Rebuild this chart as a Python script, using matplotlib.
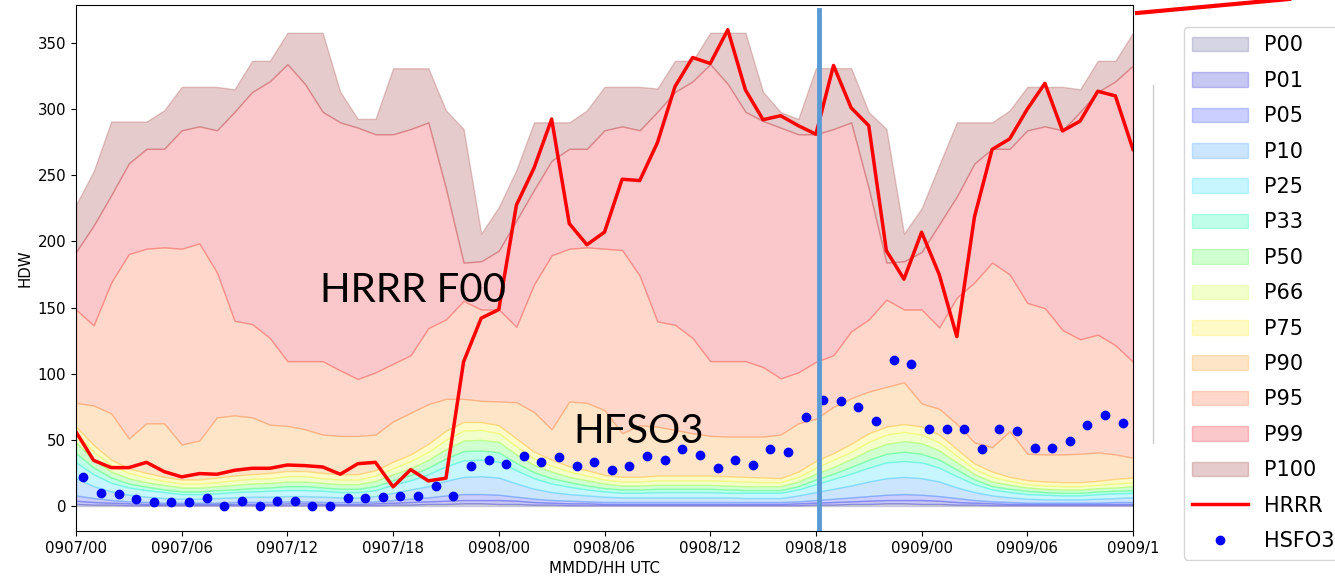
import numpy as np
import matplotlib.pyplot as plt
from matplotlib.lines import Line2D

# hourly forecast times (hours from 0907/00) and observation times (HH:25)
hours = np.arange(61)
obs_hours = np.arange(60) + 25 / 60.0

# climatological percentiles of HDW
p100 = [227.6, 253, 290.6, 290.6, 290.6, 299, 316.8, 316.8, 316.8, 315, 336.5, 336.5, 357.7, 357.7, 357.7, 313, 292.6, 292.6, 330.9, 330.9, 330.9, 299, 285, 205.9,
        226, 254, 290, 290, 290, 299, 316.8, 316.8, 316.8, 315.6, 336.5, 336.5, 357.7, 357.7, 357.7, 313, 297.7, 292.6, 331, 331, 331, 297.7, 285, 205.9,
        225, 257.7, 290, 290, 290, 299, 316.8, 316.8, 316.8, 315, 336.5, 336.5, 357.7]
p99 = [192, 212, 235, 259, 270, 270, 284, 287, 284, 298, 313, 321, 334, 319, 298, 290, 286, 281, 281, 285, 290, 240, 184, 185,
       193, 216, 239, 261, 270, 270, 284, 287, 284, 298, 313, 321, 334, 319, 298, 291, 286, 281, 281, 285, 290, 240, 184, 185,
       192, 213, 234, 259, 270, 270, 284, 287, 284, 298, 313, 321, 333]
p95 = [148.5, 136.5, 169, 190.5, 194.5, 195.5, 194.5, 198.5, 176.5, 140, 137.5, 127, 109.5, 109.5, 109.5, 102.5, 96, 101, 107.5, 114, 134.5, 141, 155, 148.5,
       148.5, 135.5, 167.5, 189.5, 194.5, 195.5, 194.5, 193.5, 174, 139.5, 137, 127, 109.5, 109.5, 109.5, 105, 96.5, 101, 109, 114, 132, 141, 156, 148.5,
       148.5, 135, 157.5, 169, 184, 175, 153.5, 149.5, 133, 126, 129.5, 121.5, 109]
p90 = [78, 76, 70, 51, 62.5, 62.5, 46.5, 49.5, 67, 68.5, 67, 61.5, 60.5, 58, 54, 53, 53, 54, 64, 70.5, 77, 81, 81, 79.5,
       79, 78.5, 71, 58, 79, 78, 72.5, 55, 61, 60, 57.5, 55, 53, 52.5, 52.5, 52.5, 54, 62.5, 66, 75, 81.5, 86.5, 90, 93.5,
       77.5, 73.5, 62, 48, 44.5, 56.5, 39.5, 39, 39, 39.5, 40.5, 39, 36.5]
p75 = [60, 46, 35, 28.5, 25, 22, 20, 20, 21.5, 23, 24, 25, 26.5, 26.5, 25, 24, 24, 27, 33.5, 39, 47, 57, 63.5, 63.5,
       61, 51, 41, 35, 30, 27, 23.5, 22, 22, 23, 23, 23, 23, 22.5, 22, 21.5, 21, 26, 34, 40, 47, 55, 60, 62,
       60, 54, 43, 32, 26, 22, 19.5, 18.5, 18, 18, 19, 20.5, 21.5]
p66 = [55, 41, 31, 25, 21.5, 19, 17, 17, 18, 19.5, 20.5, 21, 22.5, 22.5, 21, 20, 20, 23, 28.5, 34, 41, 50, 57, 57.5,
       55, 45, 36, 30.5, 26, 23, 20, 18.5, 18.5, 19.5, 19.5, 19.5, 19.5, 19, 18.5, 18, 18, 22, 29, 35, 41, 48.5, 54, 56,
       54, 48, 38, 28, 22, 19, 16.5, 15.5, 15, 15, 16, 17, 18]
p50 = [48, 35, 26, 21, 18, 16, 14, 14, 15, 16, 17, 17.5, 18.5, 18.5, 17.5, 16.5, 16.5, 19, 24, 28.5, 35, 43, 49.5, 50,
       48.5, 39, 31, 26, 22, 19.5, 17, 15.5, 15.5, 16, 16, 16, 16, 15.5, 15, 15, 15, 18.5, 24.5, 29.5, 35.5, 42, 47, 49,
       47.5, 42, 33, 24, 18.5, 16, 14, 13, 12.5, 12.5, 13.5, 14, 15]
p33 = [40, 29, 21.5, 17, 14.5, 12.5, 11, 11, 12, 12.5, 13.5, 14, 15, 15, 14, 13, 13, 15, 19.5, 23.5, 29, 36, 41.5, 42,
       40.5, 32.5, 25.5, 21, 18, 15.5, 13.5, 12.5, 12.5, 13, 13, 13, 13, 12.5, 12, 12, 12, 15, 20, 24.5, 29.5, 35, 39.5, 41,
       39.5, 35, 27.5, 20, 15, 13, 11.5, 10.5, 10, 10, 11, 11.5, 12]
p25 = [33, 24, 17.5, 14, 12, 10.5, 9, 9, 9.5, 10.5, 11, 11.5, 12, 12, 11.5, 10.5, 10.5, 12, 16, 19.5, 24, 30, 34.5, 35,
       33.5, 27, 21, 17, 14.5, 12.5, 11, 10, 10, 10.5, 10.5, 10.5, 10.5, 10, 10, 10, 10, 12.5, 16.5, 20.5, 24.5, 29, 33, 34,
       33, 29, 22.5, 16.5, 12.5, 10.5, 9, 8.5, 8, 8, 9, 9.5, 10]
p10 = [21, 15, 11, 8.5, 7, 6, 5.5, 5.5, 6, 6.5, 7, 7, 7.5, 7.5, 7, 6.5, 6.5, 7.5, 10, 12.5, 15, 19, 22, 22.5,
       21.5, 17, 13, 10.5, 9, 8, 7, 6.5, 6.5, 6.5, 6.5, 6.5, 6.5, 6.5, 6, 6, 6, 8, 10.5, 13, 15.5, 18.5, 21, 22,
       21, 18.5, 14, 10.5, 8, 6.5, 5.5, 5, 5, 5, 5.5, 6, 6.5]
p05 = [8, 6, 4.5, 3.5, 3, 2.5, 2.5, 2.5, 2.5, 3, 3, 3, 3.5, 3.5, 3, 3, 3, 3.5, 4.5, 5.5, 6.5, 8, 9, 9,
       8.5, 7, 5.5, 4.5, 4, 3.5, 3, 3, 3, 3, 3, 3, 3, 3, 3, 3, 3, 3.5, 4.5, 5.5, 6.5, 7.5, 8.5, 9,
       8.5, 7.5, 6, 4.5, 3.5, 3, 2.5, 2.5, 2.5, 2.5, 2.5, 3, 3]
p01 = [4, 3, 2.5, 2, 1.5, 1.5, 1.5, 1.5, 1.5, 1.5, 1.5, 1.5, 2, 2, 1.5, 1.5, 1.5, 2, 2.5, 3, 3.5, 4, 4.5, 4.5,
       4.5, 4, 3, 2.5, 2, 2, 1.5, 1.5, 1.5, 1.5, 1.5, 1.5, 1.5, 1.5, 1.5, 1.5, 1.5, 2, 2.5, 3, 3.5, 4, 4.5, 4.5,
       4.5, 4, 3, 2.5, 2, 1.5, 1.5, 1.5, 1.5, 1.5, 1.5, 1.5, 1.5]
p00 = [1.5, 1, 1, 0.5, 0.5, 0.5, 0.5, 0.5, 0.5, 0.5, 0.5, 0.5, 0.5, 0.5, 0.5, 0.5, 0.5, 0.5, 1, 1, 1.5, 1.5, 2, 2,
       1.5, 1.5, 1, 1, 0.5, 0.5, 0.5, 0.5, 0.5, 0.5, 0.5, 0.5, 0.5, 0.5, 0.5, 0.5, 0.5, 0.5, 1, 1, 1.5, 1.5, 2, 2,
       1.5, 1.5, 1, 1, 0.5, 0.5, 0.5, 0.5, 0.5, 0.5, 0.5, 0.5, 0.5]

# HRRR F00 and observed HSFO3
hrrr = [56, 34.5, 29, 29, 33, 26, 22, 24.5, 24, 27, 28.5, 28.5, 31, 30.5, 29.5, 24, 32, 33, 14.5, 27.5, 19, 21, 109, 142,
        148.5, 227.5, 255.5, 292.5, 213.5, 197.5, 207, 247, 246, 274.5, 317, 339, 334.5, 360, 314.5, 292, 295, 287.5, 281, 333, 301, 287.5, 193, 171.5,
        207, 175, 128, 218.5, 269.5, 277.5, 300, 319.5, 283.5, 291, 313.5, 310, 269.5]
hsfo3 = [22, 9.5, 9, 5, 3, 3, 3, 6, 0, 4, 0, 4, 4, 0, 0, 6, 6, 6.5, 7.5, 7.5, 15, 7.5, 30, 35,
         31.5, 38, 33.5, 37, 30, 33.5, 27, 30, 37.5, 35, 43, 38.5, 29, 34.5, 31, 43, 40.5, 67, 80, 79, 74.5, 64, 110.5, 107,
         58.5, 58.5, 58.5, 43, 58.5, 57, 44, 44, 49.5, 61, 68.5, 62.5]

pct_labels = ['P00', 'P01', 'P05', 'P10', 'P25', 'P33', 'P50', 'P66', 'P75', 'P90', 'P95', 'P99', 'P100']
pct_values = [p00, p01, p05, p10, p25, p33, p50, p66, p75, p90, p95, p99, p100]
pct_colors = ['#5a5a9a', '#2020d0', '#3040ff', '#3399ff', '#22ddff', '#00ffaa', '#44ff44',
              '#ccff33', '#ffee22', '#ff9922', '#ff6633', '#ee2233', '#993333']

tick_pos = np.arange(0, 61, 6)
tick_labels = ['0907/00', '0907/06', '0907/12', '0907/18', '0908/00', '0908/06',
               '0908/12', '0908/18', '0909/00', '0909/06', '0909/1']

fig = plt.figure(figsize=(13.35, 5.81), dpi=100)
ax = fig.add_axes([76 / 1335, 1 - 531 / 581, (1133 - 76) / 1335, 526 / 581])

handles = []
bas = np.zeros(len(hours))
for lab, vals, col in zip(pct_labels, pct_values, pct_colors):
    vals = np.array(vals, dtype=float)
    h = ax.fill_between(hours, bas, vals, color=col, alpha=0.25, lw=1, label=lab)
    handles.append(h)
    bas = vals

ln, = ax.plot(hours, hrrr, color='red', lw=2.5, label='HRRR')
pts, = ax.plot(obs_hours, hsfo3, 'o', color='blue', ms=6, label='HSFO3')
handles += [ln, pts]

# annotation marks laid on the screenshot
ax.axvline(42.2, ymin=0, ymax=0.99, color='#5b9bd5', lw=3.5, zorder=6)
ax.text(13.85, 154, 'HRRR F00', fontsize=29, family='Lato', ha='left', va='baseline', zorder=7)
ax.text(28.26, 47.6, 'HFSO3', fontsize=29, family='Lato', ha='left', va='baseline', zorder=7)

ax.set_xlim(0, 60)
ax.set_ylim(-18.9, 378.7)
ax.set_xticks(tick_pos)
ax.set_xticklabels(tick_labels)
ax.set_yticks(np.arange(0, 351, 50))
ax.tick_params(labelsize=10.8)
ax.set_xlabel('MMDD/HH UTC', fontsize=10.8)
ax.set_ylabel('HDW', fontsize=10.8)

fig.legend(handles, [h.get_label() for h in handles], loc='upper left',
           bbox_to_anchor=(1184 / 1335, 1 - 27 / 581), borderaxespad=0,
           fontsize=15, handlelength=2.65, labelspacing=0.74, numpoints=1)

fig.add_artist(Line2D([1153 / 1335] * 2, [1 - 85 / 581, 1 - 443 / 581],
                      color='#cccccc', lw=1, transform=fig.transFigure))
fig.add_artist(Line2D([1137 / 1335, 1300 / 1335], [1 - 13 / 581, 1 + 2 / 581],
                      color='red', lw=3, transform=fig.transFigure))

fig.savefig('out.png', dpi=100)
